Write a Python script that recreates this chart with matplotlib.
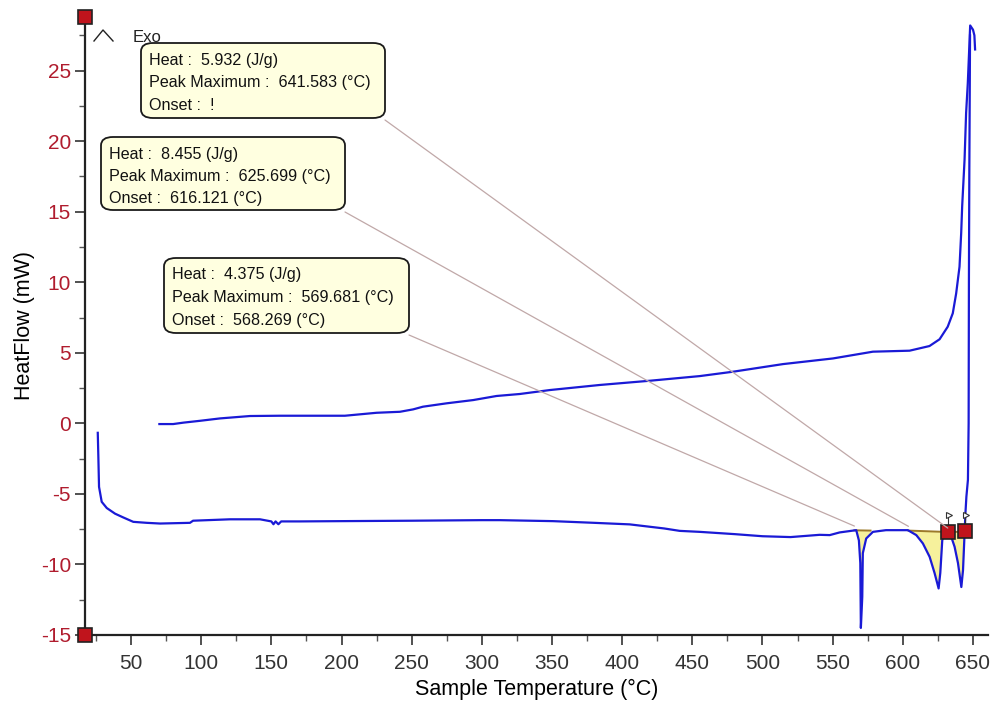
import numpy as np
import matplotlib
matplotlib.use("Agg")
import matplotlib.pyplot as plt
from matplotlib.patches import FancyBboxPatch, ConnectionPatch
from matplotlib.lines import Line2D
from matplotlib.ticker import MultipleLocator

plt.rcParams['font.family'] = ['Liberation Sans', 'DejaVu Sans']
plt.rcParams['axes.unicode_minus'] = False

# heating run (lower curve)
heat_T = [26.3, 26.7, 27.2, 29.1, 32.7, 38.6, 44.5, 51.6, 61.2, 70.7, 92.0, 94.2,
          120.5, 141.9, 150.0, 151.5, 153.0, 155.0, 157.0, 170.0, 200.0, 250.0,
          300.0, 312.8, 350.6, 380.0, 405.4, 430.0, 441.0, 455.3, 480.0, 500.0,
          520.0, 540.7, 547.9, 555.0, 566.8, 568.7, 569.7, 570.1, 571.1, 571.5,
          573.9, 578.7, 588.0, 603.6, 609.6, 614.3, 619.1, 622.6, 625.5, 626.7,
          628.1, 629.5, 631.0, 632.5, 634.5, 636.9, 639.3, 641.7, 642.9, 643.6,
          644.6, 645.3, 646.4, 646.9, 647.1, 647.4, 647.9]
heat_Q = [-0.67, -2.3, -4.5, -5.56, -6.0, -6.4, -6.67, -6.98, -7.05, -7.1, -7.05, -6.9,
          -6.8, -6.8, -6.95, -7.15, -6.95, -7.15, -6.95, -6.95, -6.93, -6.9,
          -6.86, -6.86, -6.93, -7.05, -7.16, -7.45, -7.62, -7.69, -7.85, -8.0,
          -8.06, -7.9, -7.92, -7.73, -7.57, -8.3, -9.9, -14.5, -12.3, -9.2,
          -8.16, -7.69, -7.57, -7.57, -7.92, -8.51, -9.46, -10.6, -11.7, -10.6,
          -8.3, -7.75, -7.7, -7.8, -8.04, -8.75, -9.9, -11.6, -10.4, -8.75,
          -6.4, -5.2, -4.0, 0.0, 10.0, 18.0, 27.5]

# cooling run (upper curve)
cool_T = [70.2, 80.0, 87.3, 99.1, 113.4, 134.8, 156.0, 202.4, 225.0, 241.6, 251.0,
          258.0, 274.9, 293.8, 310.5, 327.0, 348.4, 384.0, 419.7, 455.3, 479.0,
          514.6, 550.2, 578.7, 604.8, 619.0, 626.2, 632.0, 635.6, 638.0, 640.4,
          641.6, 642.3, 644.0, 645.1, 646.3, 648.0, 650.0, 651.0, 651.5]
cool_Q = [-0.05, -0.05, 0.05, 0.18, 0.35, 0.52, 0.54, 0.54, 0.75, 0.82, 0.99,
          1.18, 1.42, 1.65, 1.94, 2.08, 2.36, 2.72, 3.02, 3.35, 3.66,
          4.2, 4.6, 5.08, 5.15, 5.48, 5.96, 6.85, 7.8, 9.2, 11.1,
          13.5, 15.4, 18.7, 22.0, 24.1, 28.2, 27.9, 27.5, 26.5]

# integrated peaks
peak_heat = ['4.375', '8.455', '5.932']
peak_max = ['569.681', '625.699', '641.583']
peak_onset = ['568.269 (°C)', '616.121 (°C)', '!']
peak_lo = [565.5, 604.0, 632.0]
peak_hi = [577.0, 631.9, 644.3]
base_lo = [-7.58, -7.6, -7.72]
base_hi = [-7.6, -7.7, -7.66]

W, H = 995, 702
fig = plt.figure(figsize=(W / 100, H / 100), dpi=100)
ax = fig.add_axes([85 / W, 1 - 635 / H, 903 / W, 618 / H])

def fp(x, y):
    return (x / W, 1 - y / H)

blue = '#1a1ad6'
ax.plot(cool_T, cool_Q, color=blue, lw=1.6, zorder=3)
ax.plot(heat_T, heat_Q, color=blue, lw=1.6, zorder=3)

# yellow integration areas + baselines
for lo, hi, b0, b1 in zip(peak_lo, peak_hi, base_lo, base_hi):
    t = np.linspace(lo, hi, 200)
    q = np.interp(t, heat_T, heat_Q)
    b = np.interp(t, [lo, hi], [b0, b1])
    ax.fill_between(t, q, b, where=q < b, color='#f6f19c', lw=0, zorder=2)
    ax.plot([lo, hi], [b0, b1], color='#9c7a2a', lw=1.4, zorder=2.5)

# integration limit markers with small flags
for t, q in [(peak_lo[2], base_lo[2]), (peak_hi[2], base_hi[2])]:
    ax.plot([t, t], [q, q + 1.4], color='#333333', lw=0.8, zorder=4)
    ax.plot([t + 0.9], [q + 1.2], marker='>', ms=5, mfc='white', mec='#333333',
            mew=0.8, zorder=4)
    ax.plot([t], [q], marker='s', ms=10, mfc='#c0141c', mec='#222222', mew=1.2,
            zorder=5)

ax.set_xlim(17.2, 660.7)
ax.set_ylim(-15, 28.8)
ax.xaxis.set_minor_locator(MultipleLocator(25))
ax.yaxis.set_major_locator(MultipleLocator(5))
ax.yaxis.set_minor_locator(MultipleLocator(2.5))
ax.set_xticks(np.arange(50, 651, 50))
for s in ['top', 'right']:
    ax.spines[s].set_visible(False)
for s in ['left', 'bottom']:
    ax.spines[s].set_linewidth(1.6)
    ax.spines[s].set_color('#222222')
ax.tick_params(which='major', length=7, width=1.2, color='#333333', labelsize=15)
ax.tick_params(which='minor', length=4, width=1.0, color='#555555')
ax.tick_params(axis='y', labelcolor='#b01c2e', pad=3)
ax.tick_params(axis='x', labelcolor='#333333', pad=7)
ax.set_xlabel('Sample Temperature (°C)', fontsize=15.5, labelpad=4)
ax.set_ylabel('HeatFlow (mW)', fontsize=15.5, labelpad=4)

# red squares on the axis corners
for ya in [0, 1]:
    ax.plot([0], [ya], marker='s', ms=10, mfc='#c0141c', mec='#222222', mew=1.2,
            transform=ax.transAxes, clip_on=False, zorder=6)

# Exo marker
fig.add_artist(Line2D([94 / W, 103 / W, 113 / W], [1 - 41 / H, 1 - 30 / H, 1 - 41 / H],
                      color='#222222', lw=1.0))
fig.text(*fp(133, 37), 'Exo', fontsize=12, va='center', ha='left', color='#222222')

# annotation boxes: (left, top, right, bottom) in pixels
boxes = [(164, 258, 409, 333), (101, 137, 345, 210), (141, 43, 385, 118)]
for i, (x0, y0, x1, y1) in enumerate(boxes):
    fx0, fy1 = fp(x0, y1)
    fx1, fy0 = fp(x1, y0)
    p = FancyBboxPatch((fx0, fy1), fx1 - fx0, fy0 - fy1,
                       boxstyle='round,pad=0,rounding_size=0.012',
                       transform=fig.transFigure, fc='#ffffe0', ec='#1a1a1a',
                       lw=1.3, zorder=10)
    fig.add_artist(p)
    lines = ['Heat :  %s (J/g)' % peak_heat[i],
             'Peak Maximum :  %s (°C)' % peak_max[i],
             'Onset :  %s' % peak_onset[i]]
    for k, s in enumerate(lines):
        fig.text(*fp(x0 + 8, y0 + 17 + 22.5 * k), s, fontsize=11.6, va='center',
                 ha='left', color='#111111', zorder=11)
    con = ConnectionPatch(xyA=fp(x1, y1 + 2), coordsA=fig.transFigure,
                          xyB=(peak_lo[i], base_lo[i] + 0.3), coordsB=ax.transData,
                          color='#c0a8a8', lw=0.9, zorder=1)
    fig.add_artist(con)

fig.savefig('out.png', dpi=100)
